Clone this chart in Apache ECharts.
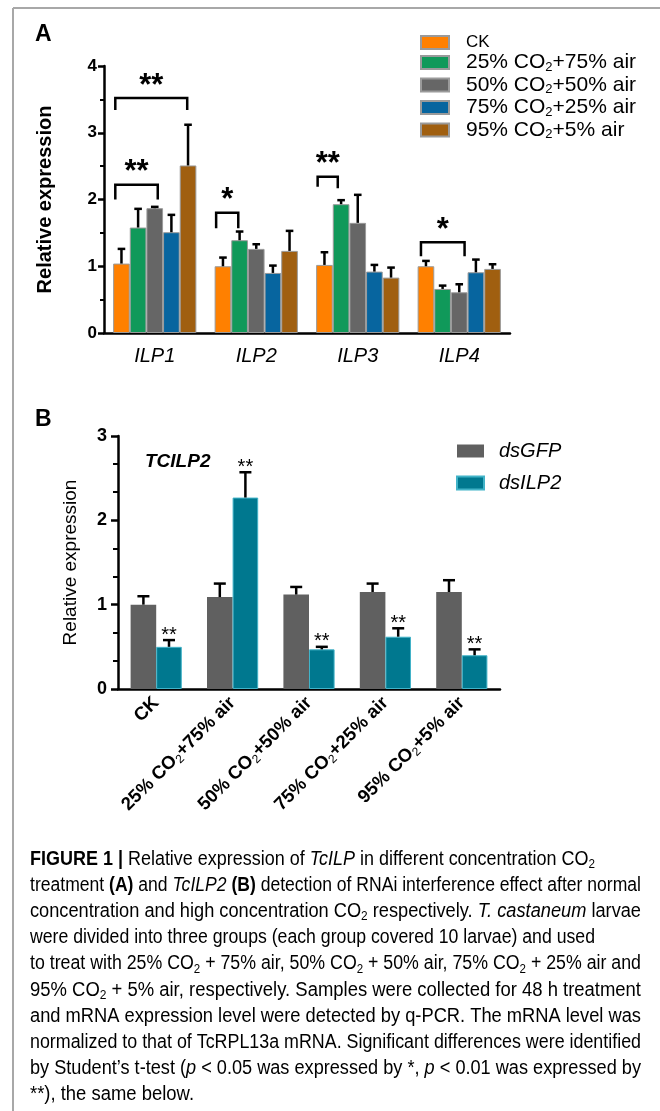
<!DOCTYPE html>
<html><head><meta charset="utf-8">
<script src="https://cdn.jsdelivr.net/npm/echarts@6/dist/echarts.min.js"></script>
<style>html,body{margin:0;padding:0;background:#fff}#c{width:660px;height:1111px}</style>
</head><body><div id="c"></div>
<script>
// ---------- Panel A data ----------
const genesA = ['ILP1', 'ILP2', 'ILP3', 'ILP4'];
const treatA = ['CK', '25% CO2+75% air', '50% CO2+50% air', '75% CO2+25% air', '95% CO2+5% air'];
const meanCK = [1.04, 1.00, 1.02, 1.00];
const mean25 = [1.58, 1.39, 1.93, 0.66];
const mean50 = [1.87, 1.26, 1.65, 0.61];
const mean75 = [1.51, 0.90, 0.92, 0.91];
const mean95 = [2.51, 1.23, 0.83, 0.96];
const sdCK = [0.22, 0.13, 0.19, 0.08];
const sd25 = [0.28, 0.13, 0.06, 0.05];
const sd50 = [0.02, 0.07, 0.42, 0.12];
const sd75 = [0.26, 0.11, 0.10, 0.19];
const sd95 = [0.61, 0.30, 0.15, 0.07];
const ticksA = [0, 1, 2, 3, 4];
// [gene index, left end (bar slots), right end (bar slots), bracket top, left leg end, right leg end, mark]
const bracketsA = [
  [0, 0.13, 4.45, 3.52, 3.34, 3.34, '**'],
  [0, 0.13, 2.68, 2.22, 2.00, 2.00, '**'],
  [1, 0.09, 1.42, 1.80, 1.57, 1.57, '*'],
  [2, 0.09, 1.30, 2.34, 2.19, 2.17, '**'],
  [3, 0.20, 2.82, 1.36, 1.15, 1.15, '*']
];
// ---------- Panel B data ----------
const groupsB = ['CK', '25% CO2+75% air', '50% CO2+50% air', '75% CO2+25% air', '95% CO2+5% air'];
const seriesB = ['dsGFP', 'dsILP2'];
const meanGFP = [1.00, 1.09, 1.12, 1.15, 1.15];
const sdGFP = [0.10, 0.16, 0.09, 0.10, 0.14];
const meanILP2 = [0.50, 2.27, 0.47, 0.62, 0.40];
const sdILP2 = [0.08, 0.30, 0.03, 0.10, 0.07];
const sigILP2 = ['**', '**', '**', '**', '**'];
const ticksB = [0, 1, 2, 3];
// ---------- Caption ----------
const captionLines = [
  [['b', 'FIGURE 1 |'], ['r', ' Relative expression of '], ['i', 'TcILP'], ['r', ' in different concentration CO'], ['s', '2']],
  [['r', 'treatment '], ['b', '(A)'], ['r', ' and '], ['i', 'TcILP2'], ['r', ' '], ['b', '(B)'], ['r', ' detection of RNAi interference effect after normal']],
  [['r', 'concentration and high concentration CO'], ['s', '2'], ['r', ' respectively. '], ['i', 'T. castaneum'], ['r', ' larvae']],
  [['r', 'were divided into three groups (each group covered 10 larvae) and used']],
  [['r', 'to treat with 25% CO'], ['s', '2'], ['r', ' + 75% air, 50% CO'], ['s', '2'], ['r', ' + 50% air, 75% CO'], ['s', '2'], ['r', ' + 25% air and']],
  [['r', '95% CO'], ['s', '2'], ['r', ' + 5% air, respectively. Samples were collected for 48 h treatment']],
  [['r', 'and mRNA expression level were detected by q-PCR. The mRNA level was']],
  [['r', 'normalized to that of TcRPL13a mRNA. Significant differences were identified']],
  [['r', 'by Student\u2019s t-test ('], ['i', 'p'], ['r', ' < 0.05 was expressed by *, '], ['i', 'p'], ['r', ' < 0.01 was expressed by']],
  [['r', '**), the same below.']]
];
const captionLineWidths = [565, 611, 611, 565, 611, 611, 611, 611, 611, 164];

// ---------- styling ----------
const FONT = '"Liberation Sans", Arial, Helvetica, sans-serif';
const colorsA = ['#FF8000', '#10995A', '#666666', '#07659F', '#A05F10'];
const colorsB = ['#606060', '#00788F'];
const GAP_A = 0.18, GAP_B = 0.33;
const meansA = [meanCK, mean25, mean50, mean75, mean95];
const sdsA = [sdCK, sd25, sd50, sd75, sd95];

function richCO2(name, n, s) {
  return '{' + n + '|' + name.replace(/CO2/g, 'CO}{' + s + '|2}{' + n + '|') + '}';
}

function errRender(idx, nBars, gap, capHalf, lw, marks, markSize) {
  return function (params, api) {
    const cat = api.value(0), m = api.value(1), sd = api.value(2);
    const p0 = api.coord([cat, m]);
    const p1 = api.coord([cat, m + sd]);
    const band = api.size([1, 0])[0];
    const groupW = band * (1 - gap), barW = groupW / nBars;
    const x = p0[0] - groupW / 2 + barW * (idx + 0.5);
    const children = [
      { type: 'line', shape: { x1: x, y1: p0[1], x2: x, y2: p1[1] }, style: { stroke: '#000', lineWidth: lw } },
      { type: 'line', shape: { x1: x - capHalf, y1: p1[1], x2: x + capHalf, y2: p1[1] }, style: { stroke: '#000', lineWidth: lw } }
    ];
    if (marks) {
      children.push({ type: 'text', x: x, y: p1[1] - 5,
        style: { text: marks[params.dataIndex], fontSize: markSize, fontFamily: FONT, fill: '#000', align: 'center', verticalAlign: 'middle' } });
    }
    return { type: 'group', children: children };
  };
}

function bracketRender(params, api) {
  const b = bracketsA[params.dataIndex];
  const band = api.size([1, 0])[0];
  const groupW = band * (1 - GAP_A), barW = groupW / 5;
  const cx = api.coord([b[0], 0])[0];
  const x1 = cx - groupW / 2 + b[1] * barW, x2 = cx - groupW / 2 + b[2] * barW;
  const yT = api.coord([b[0], b[3]])[1], yL = api.coord([b[0], b[4]])[1], yR = api.coord([b[0], b[5]])[1];
  return { type: 'group', children: [
    { type: 'polyline', shape: { points: [[x1, yL], [x1, yT], [x2, yT], [x2, yR]] }, style: { stroke: '#000', lineWidth: 2.5, fill: null } },
    { type: 'text', x: (x1 + x2) / 2, y: yT - 12,
      style: { text: b[6], fontSize: 31, fontWeight: 'bold', fontFamily: FONT, fill: '#000', align: 'center', verticalAlign: 'middle' } }
  ] };
}

const series = [];
treatA.forEach(function (name, i) {
  series.push({ type: 'bar', name: name, xAxisIndex: 0, yAxisIndex: 0, data: meansA[i],
    barGap: '0%', barCategoryGap: (GAP_A * 100) + '%', silent: true,
    itemStyle: { color: colorsA[i], borderColor: '#9a9a9a', borderWidth: 1 } });
});
treatA.forEach(function (name, i) {
  series.push({ type: 'custom', xAxisIndex: 0, yAxisIndex: 0, silent: true, z: 5,
    data: genesA.map(function (g, j) { return [j, meansA[i][j], sdsA[i][j]]; }),
    renderItem: errRender(i, 5, GAP_A, 3.8, 2.5, null, 0) });
});
series.push({ type: 'custom', xAxisIndex: 0, yAxisIndex: 0, silent: true, z: 6, clip: false,
  data: bracketsA.map(function (b) { return [b[0], b[3]]; }), renderItem: bracketRender });

const meansB = [meanGFP, meanILP2], sdsB = [sdGFP, sdILP2];
seriesB.forEach(function (name, i) {
  series.push({ type: 'bar', name: name, xAxisIndex: 1, yAxisIndex: 1, data: meansB[i],
    barGap: '0%', barCategoryGap: (GAP_B * 100) + '%', silent: true,
    itemStyle: i === 1 ? { color: colorsB[i], borderColor: '#41b3c8', borderWidth: 1 } : { color: colorsB[i] } });
});
seriesB.forEach(function (name, i) {
  series.push({ type: 'custom', xAxisIndex: 1, yAxisIndex: 1, silent: true, z: 5, clip: false,
    data: groupsB.map(function (g, j) { return [j, meansB[i][j], sdsB[i][j]]; }),
    renderItem: errRender(i, 2, GAP_B, 6, 2.5, i === 1 ? sigILP2 : null, 20) });
});

// caption measuring
const CAP_FS = 20;
const capStyles = {
  r: { fontSize: CAP_FS, fontFamily: FONT, color: '#231f20', lineHeight: 24 },
  b: { fontSize: CAP_FS, fontFamily: FONT, color: '#231f20', fontWeight: 'bold', lineHeight: 24 },
  i: { fontSize: CAP_FS, fontFamily: FONT, color: '#231f20', fontStyle: 'italic', lineHeight: 24 },
  s: { fontSize: 13, fontFamily: FONT, color: '#231f20', lineHeight: 13, verticalAlign: 'bottom' }
};
const ctx = document.createElement('canvas').getContext('2d');
function measureLine(tokens) {
  let w = 0;
  tokens.forEach(function (t) {
    const st = capStyles[t[0]];
    ctx.font = (st.fontStyle || 'normal') + ' ' + (st.fontWeight || 'normal') + ' ' + st.fontSize + 'px ' + FONT;
    w += ctx.measureText(t[1]).width;
  });
  return w;
}
const CAP_LEFT = 30, CAP_TOP = 859, CAP_LH = 26.2;
const graphics = [
  { type: 'line', shape: { x1: 13, y1: 8, x2: 660, y2: 8 }, style: { stroke: '#a8a8a8', lineWidth: 2 } },
  { type: 'line', shape: { x1: 13, y1: 8, x2: 13, y2: 1111 }, style: { stroke: '#a8a8a8', lineWidth: 2 } },
  { type: 'text', x: 35, y: 35, style: { text: 'A', fontSize: 23, fontWeight: 'bold', fontFamily: FONT, fill: '#000', verticalAlign: 'middle' } },
  { type: 'text', x: 35, y: 420, style: { text: 'B', fontSize: 23, fontWeight: 'bold', fontFamily: FONT, fill: '#000', verticalAlign: 'middle' } },
  { type: 'text', x: 145, y: 462, style: { text: 'TCILP2', fontSize: 19, fontWeight: 'bold', fontStyle: 'italic', fontFamily: FONT, fill: '#000', verticalAlign: 'middle' } }
];
captionLines.forEach(function (l, i) {
  graphics.push({ type: 'text', x: CAP_LEFT, y: CAP_TOP + i * CAP_LH, scaleX: captionLineWidths[i] / measureLine(l),
    style: { text: l.map(function (t) { return '{' + t[0] + '|' + t[1] + '}'; }).join(''), rich: capStyles, verticalAlign: 'middle', fontFamily: FONT } });
});

const axisLineStyle = { color: '#000', width: 2.5 };
const option = {
  animation: false,
  backgroundColor: '#fff',
  textStyle: { fontFamily: FONT },
  grid: [
    { left: 104, top: 66, width: 406, height: 267 },
    { left: 118, top: 436, width: 382, height: 253 }
  ],
  xAxis: [
    { gridIndex: 0, type: 'category', data: genesA, axisLine: { lineStyle: axisLineStyle }, axisTick: { show: false },
      axisLabel: { interval: 0, fontStyle: 'italic', fontSize: 20, color: '#000', margin: 13, fontFamily: FONT } },
    { gridIndex: 1, type: 'category', data: groupsB, axisLine: { lineStyle: axisLineStyle }, axisTick: { show: false },
      axisLabel: { interval: 0, rotate: 45, margin: 11, formatter: function (v) { return richCO2(v, 'n', 's'); },
        rich: { n: { fontWeight: 'bold', fontSize: 18.5, lineHeight: 22, fontFamily: FONT, color: '#000' },
                s: { fontSize: 12, lineHeight: 12, verticalAlign: 'bottom', fontFamily: FONT, color: '#000' } } } }
  ],
  yAxis: [
    { gridIndex: 0, type: 'value', min: ticksA[0], max: ticksA[ticksA.length - 1], interval: 1,
      name: 'Relative expression', nameLocation: 'middle', nameGap: 49,
      nameTextStyle: { fontSize: 20, fontWeight: 'bold', color: '#000', fontFamily: FONT },
      axisLine: { show: true, lineStyle: axisLineStyle }, axisTick: { show: true, length: 6, lineStyle: { width: 2.5, color: '#000' } },
      minorTick: { show: true, splitNumber: 2, length: 4, lineStyle: { width: 2, color: '#000' } },
      splitLine: { show: false }, minorSplitLine: { show: false },
      axisLabel: { fontSize: 17, fontWeight: 'bold', color: '#000', margin: 7, fontFamily: FONT } },
    { gridIndex: 1, type: 'value', min: ticksB[0], max: ticksB[ticksB.length - 1], interval: 1,
      name: 'Relative expression', nameLocation: 'middle', nameGap: 38,
      nameTextStyle: { fontSize: 19, color: '#000', fontFamily: FONT },
      axisLine: { show: true, lineStyle: axisLineStyle }, axisTick: { show: true, length: 7, lineStyle: { width: 2.5, color: '#000' } },
      minorTick: { show: true, splitNumber: 3, length: 5, lineStyle: { width: 2, color: '#000' } },
      splitLine: { show: false }, minorSplitLine: { show: false },
      axisLabel: { fontSize: 18, fontWeight: 'bold', color: '#000', margin: 11, fontFamily: FONT } }
  ],
  legend: [
    { left: 415, top: 29, orient: 'vertical', itemWidth: 28, itemHeight: 13, itemGap: 1, icon: 'rect', selectedMode: false,
      data: treatA,
      formatter: function (name) { return name === 'CK' ? '{g|}{ck|CK}' : '{g|}' + richCO2(name, 'n', 's'); },
      textStyle: { color: '#000', fontFamily: FONT, rich: {
        g: { width: 12 },
        ck: { fontSize: 17, lineHeight: 22, fontFamily: FONT, color: '#000' },
        n: { fontSize: 21, lineHeight: 22, fontFamily: FONT, color: '#000' },
        s: { fontSize: 13, lineHeight: 13, verticalAlign: 'bottom', fontFamily: FONT, color: '#000' } } } },
    { left: 451, top: 436, orient: 'vertical', itemWidth: 27, itemHeight: 13, itemGap: 12, icon: 'rect', selectedMode: false,
      data: seriesB,
      formatter: function (name) { return '{g|}{t|' + name + '}'; },
      textStyle: { color: '#000', fontFamily: FONT, rich: {
        g: { width: 10 },
        t: { fontSize: 20, fontStyle: 'italic', lineHeight: 22, fontFamily: FONT, color: '#000' } } } }
  ],
  graphic: graphics,
  series: series
};
const chart = echarts.init(document.getElementById('c'));
chart.setOption(option);
</script>
</body></html>
